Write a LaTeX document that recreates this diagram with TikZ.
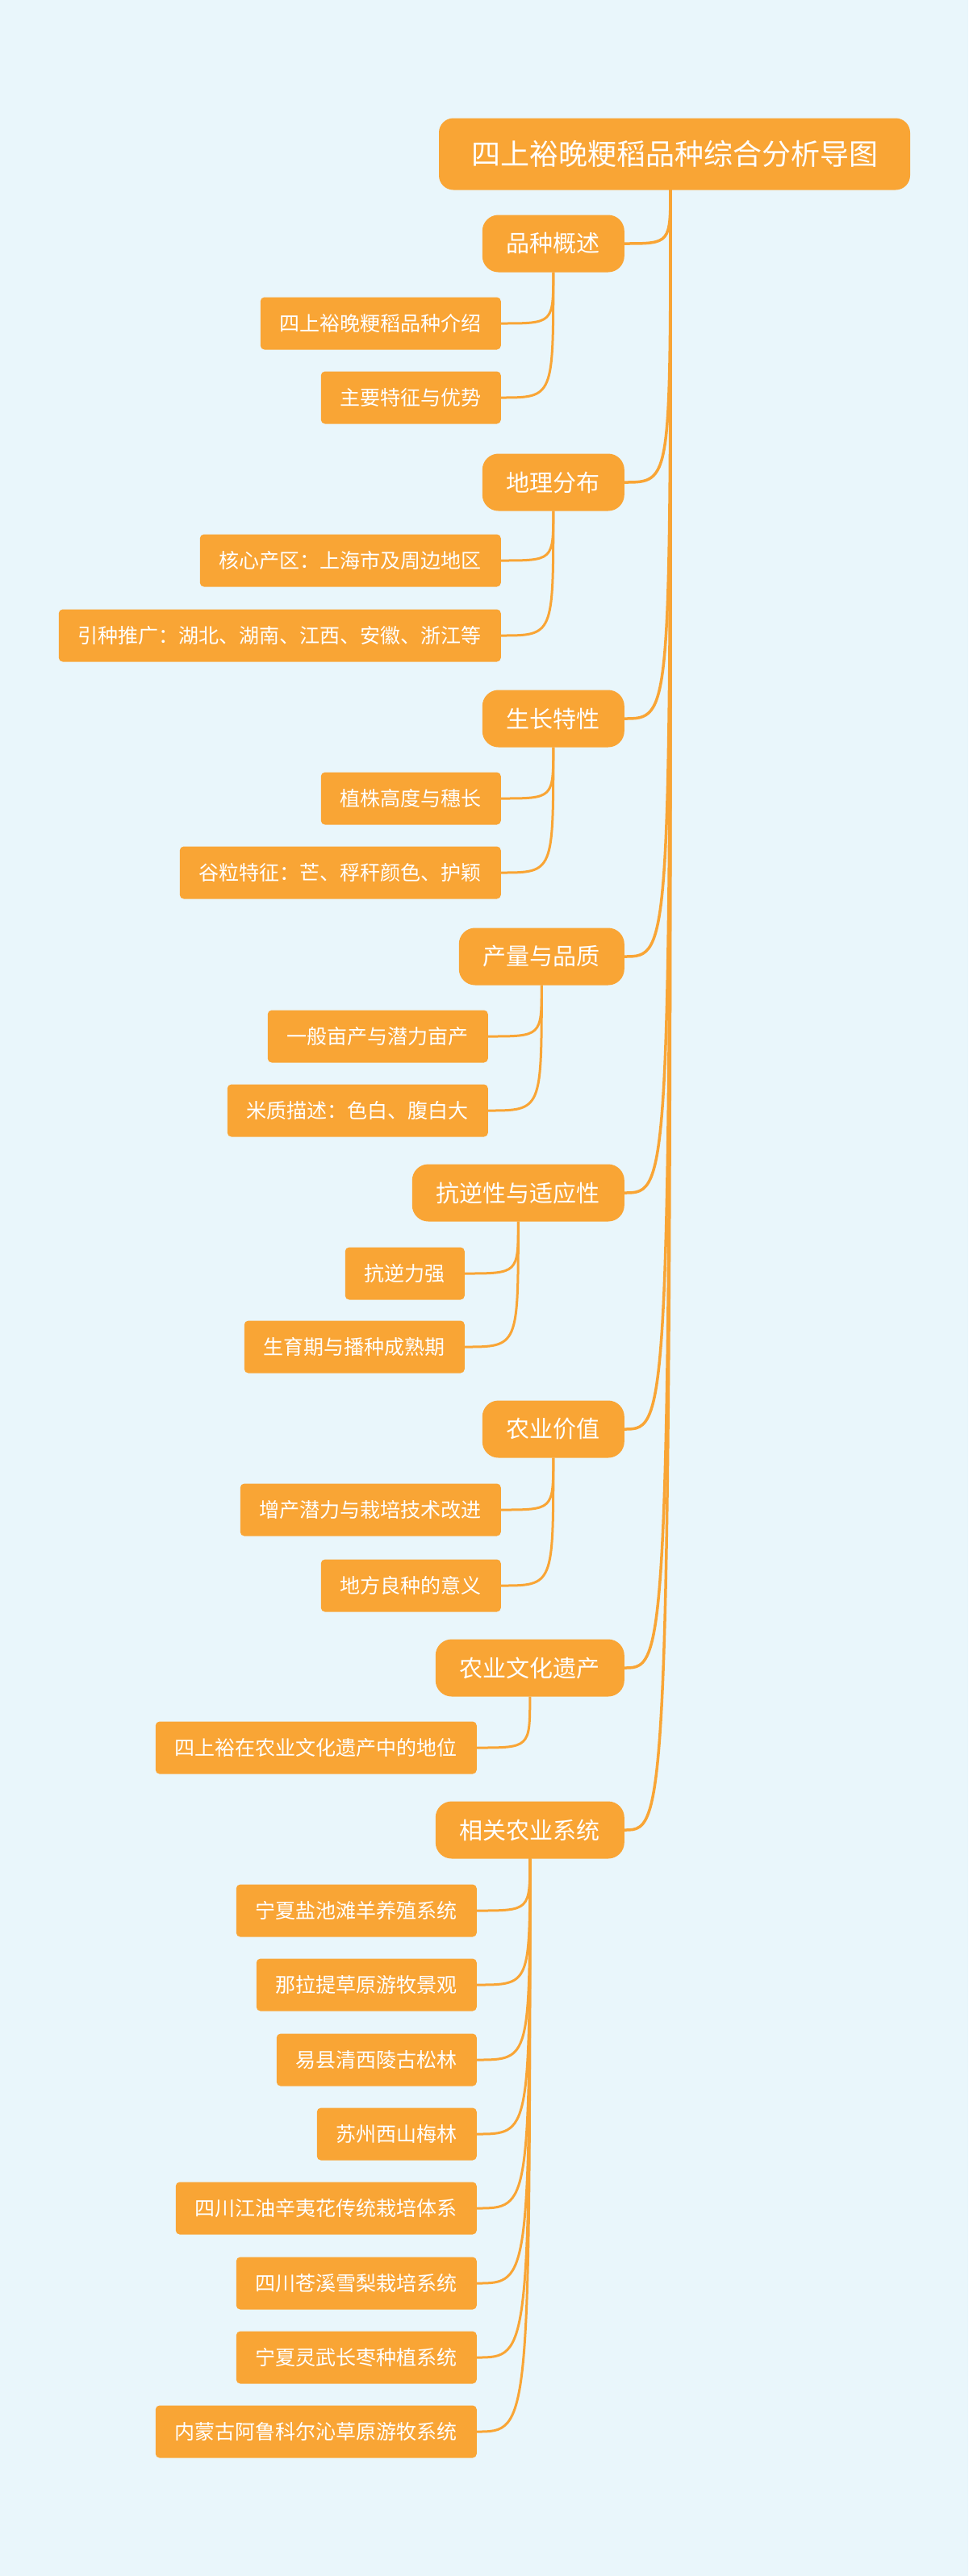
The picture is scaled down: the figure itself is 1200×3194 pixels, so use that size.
\documentclass[tikz,border=0pt]{standalone}
\usepackage{fontspec}
\setmainfont{Noto Sans CJK SC}
\definecolor{bg}{HTML}{E9F6FB}
\definecolor{org}{HTML}{F9A535}
\begin{document}
\begin{tikzpicture}[x=1pt,y=-1pt,
  rootbox/.style={fill=org,text=white,rounded corners=18pt,minimum height=89pt,inner xsep=40pt,font=\fontsize{36}{36}\selectfont},
  lone/.style={fill=org,text=white,rounded corners=20pt,minimum height=71pt,inner xsep=30pt,font=\fontsize{29}{29}\selectfont,anchor=east},
  ltwo/.style={fill=org,text=white,rounded corners=5pt,minimum height=65pt,inner xsep=24pt,font=\fontsize{25}{25}\selectfont,anchor=east},
  conn/.style={draw=org,line width=3.5pt},
  conn2/.style={draw=org,line width=3pt}]
\fill[bg] (0,0) rectangle (1200,3194);
\useasboundingbox (0,0) rectangle (1200,3194);
\node[rootbox] (root) at (836,191) {四上裕晚粳稻品种综合分析导图};
\coordinate (rs) at (831,232);
\foreach \n/\y/\t in {a/302/品种概述,b/598/地理分布,c/891/生长特性,d/1186/产量与品质,e/1479/抗逆性与适应性,f/1772/农业价值,g/2068/农业文化遗产,h/2269/相关农业系统}{
  \node[lone] (\n) at (774,\y) {\t};
  \draw[conn] (rs) .. controls (831,\y) and (831,\y) .. (\n.east);
}
\foreach \p/\n/\x/\y/\t in {a/a1/621/401/四上裕晚粳稻品种介绍,a/a2/621/493/主要特征与优势,
 b/b1/621/695/核心产区：上海市及周边地区,b/b2/621/788/引种推广：湖北、湖南、江西、安徽、浙江等,
 c/c1/621/990/植株高度与穗长,c/c2/621/1082/谷粒特征：芒、稃秆颜色、护颖,
 d/d1/605/1285/一般亩产与潜力亩产,d/d2/605/1377/米质描述：色白、腹白大,
 e/e1/576/1579/抗逆力强,e/e2/576/1670/生育期与播种成熟期,
 f/f1/621/1872/增产潜力与栽培技术改进,f/f2/621/1966/地方良种的意义,
 g/g1/591/2167/四上裕在农业文化遗产中的地位,
 h/h1/591/2369/宁夏盐池滩羊养殖系统,h/h2/591/2461/那拉提草原游牧景观,h/h3/591/2554/易县清西陵古松林,h/h4/591/2646/苏州西山梅林,
 h/h5/591/2738/四川江油辛夷花传统栽培体系,h/h6/591/2831/四川苍溪雪梨栽培系统,h/h7/591/2923/宁夏灵武长枣种植系统,h/h8/591/3015/内蒙古阿鲁科尔沁草原游牧系统}{
  \node[ltwo] (\n) at (\x,\y) {\t};
  \draw[conn2] (\p.south) .. controls (\p.south |- \n.east) and (\p.south |- \n.east) .. (\n.east);
}
\end{tikzpicture}
\end{document}
